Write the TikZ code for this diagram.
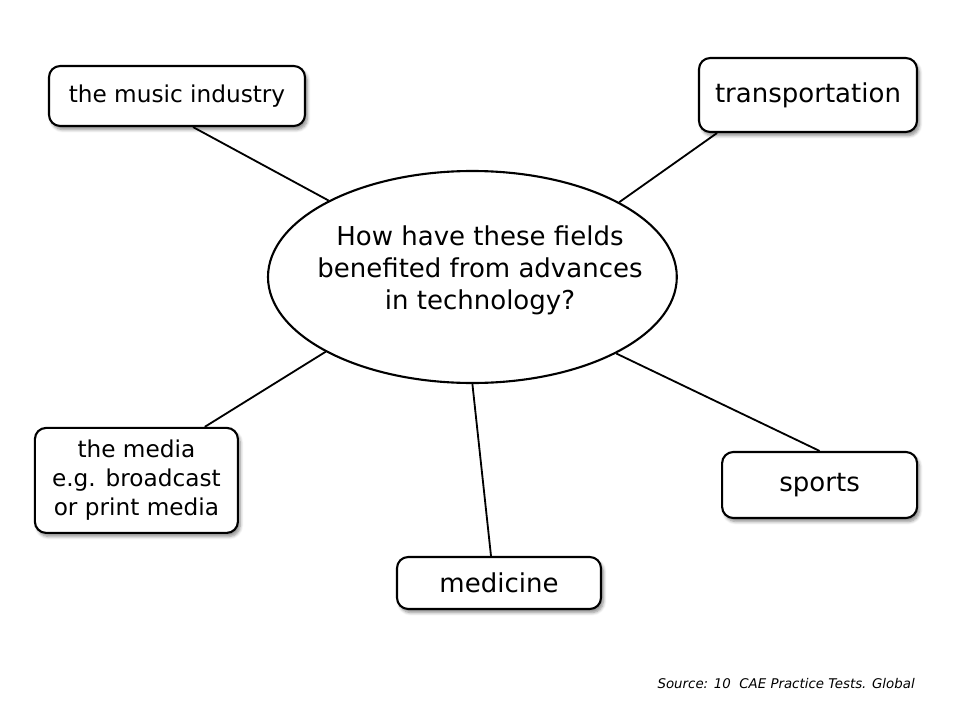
\documentclass[tikz,border=0pt]{standalone}
\usepackage{fontspec}
\setmainfont{DejaVu Sans}
\usetikzlibrary{shapes.geometric,shadows.blur}

\tikzset{
  field/.style={draw, line width=1.5pt, rounded corners=0.28cm, fill=white, align=center,
    blur shadow={shadow xshift=0.06cm, shadow yshift=-0.09cm, shadow blur steps=6, shadow opacity=45}},
  small/.style={font=\fontsize{16.5}{20.5}\selectfont},
  large/.style={font=\fontsize{18.5}{22.7}\selectfont},
  link/.style={line width=1.3pt}
}

\begin{document}
\begin{tikzpicture}
\useasboundingbox (0,0) rectangle (24,18);

% Drawing the question
\node[ellipse, draw, line width=1.5pt, inner sep=0pt, minimum width=10.22cm, minimum height=5.3cm, large] (question) at (11.81,11.075)
  {\smash{\makebox[0pt]{\hspace{0.38cm}\begin{tabular}{@{}c@{}}How have these fields\\benefited from advances\\in technology?\end{tabular}}}};

% Drawing fields
\node[field, small, minimum width=6.4cm, minimum height=1.5cm] (music) at (4.425,15.6) {the music industry};
\node[field, large, minimum width=5.45cm, minimum height=1.85cm] (transport) at (20.2,15.625) {transportation};
\node[field, small, minimum width=5.075cm, minimum height=2.625cm] (media) at (3.41,5.99) {the media\\e.g. broadcast\\or print media};
\node[field, large, minimum width=4.875cm, minimum height=1.65cm] (sports) at (20.49,5.875) {sports};
\node[field, large, minimum width=5.1cm, minimum height=1.3cm] (medicine) at (12.475,3.425) {medicine};

% Drawing links
\draw[link] ([xshift=0.4cm]music.south) -- (question.152.4);
\draw[link] ([xshift=-2.275cm]transport.south) -- (question.27.7);
\draw[link] ([xshift=1.71cm]media.north) -- (question.207.4);
\draw[link] (sports.north) -- (question.332.6);
\draw[link] ([xshift=-0.2cm]medicine.north) -- (question.270);

% Drawing source
\node[anchor=east, inner sep=0pt, font=\fontsize{9.5}{11}\selectfont\itshape] (source) at (22.875,0.9) {Source: 10\ \ CAE Practice Tests. Global};
\end{tikzpicture}
\end{document}
